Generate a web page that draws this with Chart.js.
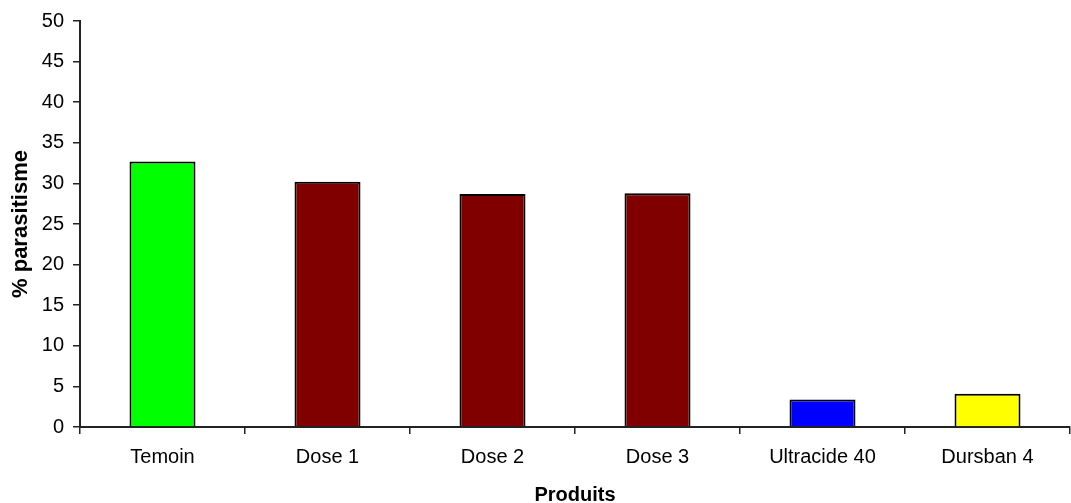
<!DOCTYPE html>
<html>
<head>
<meta charset="utf-8">
<script src="https://cdn.jsdelivr.net/npm/chart.js@4/dist/chart.umd.min.js"></script>
<style>
  html, body { margin: 0; padding: 0; background: #fff; }
  #wrap { width: 1071px; height: 503px; position: relative; }
</style>
</head>
<body>
<div id="wrap"><canvas id="c" width="1071" height="503"></canvas></div>
<script>
const categories = ["Temoin", "Dose 1", "Dose 2", "Dose 3", "Ultracide 40", "Dursban 4"];
const parasitisme = [32.7, 30.2, 28.7, 28.8, 3.4, 4.1];
const barColors = ["#00FF00", "#800000", "#800000", "#800000", "#0000FF", "#FFFF00"];
const yTicks = [0, 5, 10, 15, 20, 25, 30, 35, 40, 45, 50];
const xTitle = "Produits";
const yTitle = "% parasitisme";

const FONT = "'Liberation Sans', Arial, sans-serif";

new Chart(document.getElementById('c'), {
  type: 'bar',
  data: {
    labels: categories,
    datasets: [{
      data: parasitisme,
      backgroundColor: barColors,
      borderColor: '#000',
      borderWidth: 2,
      barPercentage: 0.4,
      categoryPercentage: 1.0
    }]
  },
  options: {
    responsive: false,
    animation: false,
    devicePixelRatio: 1,
    layout: { padding: { top: 19, right: 1, left: 0, bottom: 0 } },
    plugins: { legend: { display: false }, tooltip: { enabled: false } },
    scales: {
      x: {
        grid: { display: true, drawOnChartArea: false, drawTicks: true, tickLength: 7, color: '#222', offset: true, lineWidth: 1.5 },
        border: { display: true, color: '#222', width: 2 },
        ticks: { color: '#000', font: { family: FONT, size: 20 }, padding: 11, maxRotation: 0, autoSkip: false },
        title: { display: true, text: xTitle, color: '#000', font: { family: FONT, size: 20, weight: 'bold', lineHeight: 0.75 }, padding: 0 },
        afterFit: (s) => { s.height = 76; }
      },
      y: {
        min: 0, max: 50,
        afterBuildTicks: (s) => { s.ticks = yTicks.map(v => ({ value: v })); },
        grid: { display: true, drawOnChartArea: false, drawTicks: true, tickLength: 7, color: '#222', lineWidth: 1.5 },
        border: { display: true, color: '#222', width: 2 },
        ticks: { color: '#000', font: { family: FONT, size: 20 }, padding: 9 },
        title: { display: true, text: yTitle, color: '#000', font: { family: FONT, size: 22, weight: 'bold' }, padding: { top: 8, bottom: 0 } },
        afterFit: (s) => { s.width = 80; }
      }
    }
  }
});
</script>
</body>
</html>
